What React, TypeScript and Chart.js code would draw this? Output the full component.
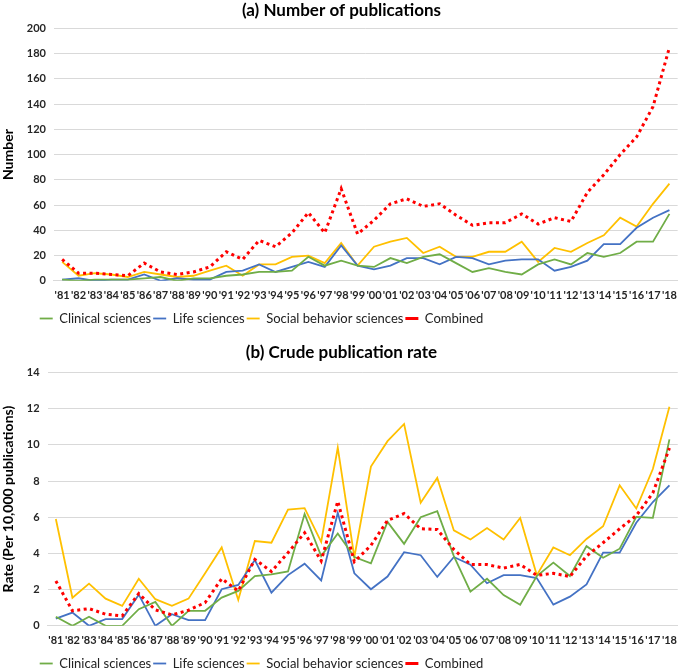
import React, { useEffect, useRef } from "react";
import { Chart, registerables } from "chart.js";
Chart.register(...registerables);

const years = ["'81","'82","'83","'84","'85","'86","'87","'88","'89","'90","'91","'92","'93","'94","'95","'96","'97","'98","'99","'00","'01","'02","'03","'04","'05","'06","'07","'08","'09","'10","'11","'12","'13","'14","'15","'16","'17","'18"];

const seriesNames = ["Clinical sciences", "Life sciences", "Social behavior sciences", "Combined"];

const clinicalA = [1,0,1,1,1,2,3,0,2,2,4,5,7,7,8,19,12,16,12,11,18,14,19,21,14,7,10,7,5,13,17,13,22,19,22,31,31,53];
const lifeA = [1,2,0,1,1,5,0,2,1,1,7,8,13,7,11,15,11,28,12,9,12,18,18,13,19,18,13,16,17,17,8,11,16,29,29,42,50,56];
const socialA = [15,4,6,5,3,7,5,3,4,8,12,4,13,13,19,20,14,30,12,27,31,34,22,27,19,19,23,23,31,15,26,23,30,36,50,43,61,77];
const combinedA = [17,6,6,5,4,14,7,5,7,11,23,17,32,27,38,54,38,73,37,48,61,65,59,61,52,44,46,46,53,45,50,47,70,84,100,114,138,185];

const clinicalB = [0.5,0,0.5,0,0,0.92,1.32,0,0.83,0.83,1.56,1.93,2.75,2.84,3.0,6.18,3.85,5.1,3.8,3.45,5.74,4.53,6.0,6.33,3.85,1.89,2.6,1.7,1.16,2.75,3.49,2.75,4.4,3.76,4.26,6.02,5.96,10.3];
const lifeB = [0.4,0.73,0,0.37,0.37,1.72,0,0.64,0.31,0.31,2.02,2.26,3.63,1.83,2.8,3.43,2.51,6.24,2.9,2.02,2.72,4.07,3.9,2.7,3.8,3.38,2.35,2.8,2.8,2.64,1.17,1.61,2.29,4.04,4.04,5.69,6.84,7.76];
const socialB = [5.9,1.55,2.33,1.5,1.1,2.6,1.47,1.1,1.5,2.9,4.33,1.43,4.68,4.59,6.42,6.5,4.64,9.85,3.8,8.8,10.2,11.15,6.8,8.17,5.27,4.77,5.4,4.77,5.96,2.8,4.33,3.9,4.8,5.5,7.76,6.48,8.66,12.1];
const combinedB = [2.48,0.83,0.95,0.64,0.55,1.78,0.88,0.6,0.86,1.28,2.6,1.93,3.67,3.0,4.04,5.14,3.58,6.88,3.54,4.44,5.82,6.2,5.36,5.32,4.22,3.39,3.38,3.19,3.39,2.79,2.9,2.72,3.85,4.59,5.36,6.09,7.34,9.82];

const colors = ["#70AD47", "#4472C4", "#FFC000", "#FF0000"];
const FONT = "Lato, 'Liberation Sans', sans-serif";

const shiftLegend = {
  id: "shiftLegend",
  afterLayout(chart: any) {
    const lg = chart.legend;
    if (lg) {
      lg.left -= 80;
      lg.right -= 80;
    }
  },
};

function makeConfig(title: string, yTitle: string, data: number[][], yMax: number, yStep: number, titlePad: { top: number; bottom: number }) {
  return {
    type: "line" as const,
    data: {
      labels: years,
      datasets: data.map((d, i) => ({
        label: seriesNames[i],
        data: d,
        borderColor: colors[i],
        backgroundColor: colors[i],
        borderWidth: i === 3 ? 3 : 1.8,
        borderDash: i === 3 ? [3, 3.5] : [],
        pointRadius: 0,
        tension: 0,
        fill: false,
        order: i === 3 ? -1 : i,
      })),
    },
    plugins: [shiftLegend],
    options: {
      responsive: false,
      animation: false,
      layout: { padding: { left: 0, right: 2, bottom: 0, top: 0 } },
      plugins: {
        title: {
          display: true,
          text: title,
          color: "#000",
          font: { family: FONT, size: 17, weight: "bold" },
          padding: titlePad,
        },
        legend: {
          position: "bottom",
          labels: {
            usePointStyle: true,
            pointStyle: "line",
            pointStyleWidth: 13,
            boxWidth: 13,
            color: "#222",
            font: { family: FONT, size: 13 },
            padding: 2,
            sort: (a: any, b: any) => a.datasetIndex - b.datasetIndex,
          },
        },
        tooltip: { enabled: false },
      },
      scales: {
        x: {
          offset: true,
          grid: { display: false, drawTicks: false },
          border: { display: true, color: "#d9d9d9" },
          ticks: {
            autoSkip: false,
            maxRotation: 0,
            padding: 8,
            color: "#262626",
            font: { family: FONT, size: 11, weight: "bold" },
          },
        },
        y: {
          min: 0,
          max: yMax,
          ticks: {
            stepSize: yStep,
            padding: 8,
            color: "#262626",
            font: { family: FONT, size: 11, weight: "bold" },
          },
          grid: { color: "#d9d9d9", drawTicks: false },
          border: { display: false },
          title: {
            display: true,
            text: yTitle,
            color: "#000",
            font: { family: FONT, size: 14, weight: "bold" },
            padding: { top: 0, bottom: 2 },
          },
        },
      },
    },
  };
}

function ChartBox(props: { config: any; top: number; height: number }) {
  const ref = useRef<HTMLCanvasElement | null>(null);
  useEffect(() => {
    if (!ref.current) return;
    const chart = new Chart(ref.current, props.config);
    return () => chart.destroy();
  }, []);
  return (
    <canvas
      ref={ref}
      width={685}
      height={props.height}
      style={{ position: "absolute", left: 0, top: props.top, width: 685, height: props.height }}
    />
  );
}

export default function App() {
  const cfgA = makeConfig("(a) Number of publications", "Number", [clinicalA, lifeA, socialA, combinedA], 200, 20, { top: 0, bottom: 8 });
  const cfgB = makeConfig("(b) Crude publication rate", "Rate (Per 10,000 publications)", [clinicalB, lifeB, socialB, combinedB], 14, 2, { top: 15, bottom: 10 });
  return (
    <div style={{ position: "fixed", left: 0, top: 0, width: 685, height: 669, background: "#fff", overflow: "hidden" }}>
      <ChartBox config={cfgA} top={0} height={335} />
      <ChartBox config={cfgB} top={327} height={353} />
    </div>
  );
}
